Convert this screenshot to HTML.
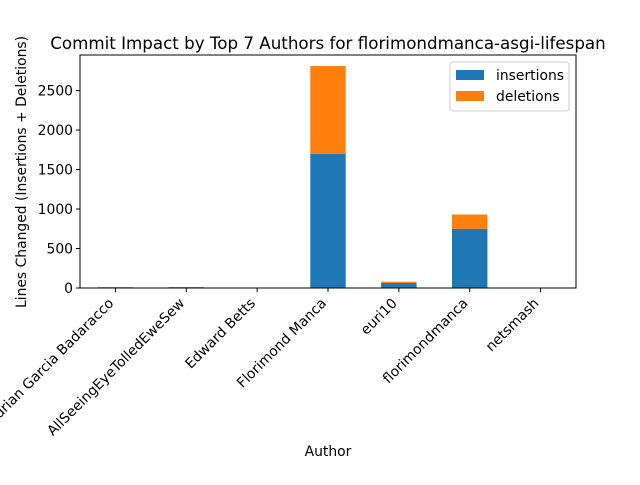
<!DOCTYPE html>
<html><head><meta charset="utf-8"><style>
body{margin:0;background:#fff;font-family:"Liberation Sans","DejaVu Sans",sans-serif}
svg text{font-family:"DejaVu Sans","Liberation Sans",sans-serif;fill:#000}
</style></head><body>
<svg id="c" width="640" height="480"></svg>
<script>
const categories=["Adrian Garcia Badaracco","AllSeeingEyeTolledEweSew","Edward Betts","Florimond Manca","euri10","florimondmanca","netsmash"];
const insertions=[3,10,0,1700,64,750,0];
const deletions=[8,2,0,1110,16,180,0];
const yTicks=[0,500,1000,1500,2000,2500];
const L=80,R=576,T=55,B=288,yMax=2950;
const svg=document.getElementById('c');const NS='http://www.w3.org/2000/svg';
function el(t,a,p){const e=document.createElementNS(NS,t);for(const k in a)e.setAttribute(k,a[k]);(p||svg).appendChild(e);return e;}
const x=i=>L+(i+0.5)*(R-L)/categories.length;
const y=v=>B-v*(B-T)/yMax;
const bw=0.5*(R-L)/categories.length;
let t=el('text',{x:328,y:49,'font-size':16.7,'text-anchor':'middle'});t.textContent='Commit Impact by Top 7 Authors for florimondmanca-asgi-lifespan';


categories.forEach((c,i)=>{
 let b=el('rect',{x:x(i)-bw/2,y:y(insertions[i]),width:bw,height:B-y(insertions[i]),fill:'#1f77b4'});
 
 
 let d=el('rect',{x:x(i)-bw/2,y:y(insertions[i]+deletions[i]),width:bw,height:y(insertions[i])-y(insertions[i]+deletions[i]),fill:'#ff7f0e'});
 
 
 el('line',{x1:x(i),x2:x(i),y1:B,y2:B+4,stroke:'#000'});
 const ax=x(i)-1,ay=B+16;
 let lb=el('text',{x:ax,y:ay,'font-size':13.9,'text-anchor':'end',transform:`rotate(-45 ${ax} ${ay})`});lb.textContent=c;
 
 
});
yTicks.forEach(v=>{
 el('line',{x1:L-4,x2:L,y1:y(v),y2:y(v),stroke:'#000'});
 let tl=el('text',{x:L-7,y:y(v)+5,'font-size':13.9,'text-anchor':'end'});tl.textContent=v;
 
 
});
el('rect',{x:L,y:T,width:R-L,height:B-T,fill:'none',stroke:'#000','stroke-width':1});
let xt=el('text',{x:328,y:456,'font-size':13.9,'text-anchor':'middle'});xt.textContent='Author';


let yt=el('text',{x:26,y:172,'font-size':13.9,'text-anchor':'middle',transform:'rotate(-90 26 172)'});yt.textContent='Lines Changed (Insertions + Deletions)';


const lg=el('g',{});


el('rect',{x:450,y:62,width:119,height:49,fill:'#fff',stroke:'#ccc',rx:3},lg);
[['insertions','#1f77b4'],['deletions','#ff7f0e']].forEach((s,k)=>{
 el('rect',{x:456,y:70+k*21,width:28,height:10,fill:s[1]},lg);
 let lt=el('text',{x:496,y:80+k*21,'font-size':13.9},lg);lt.textContent=s[0];
 
 
});
</script>
</body></html>
